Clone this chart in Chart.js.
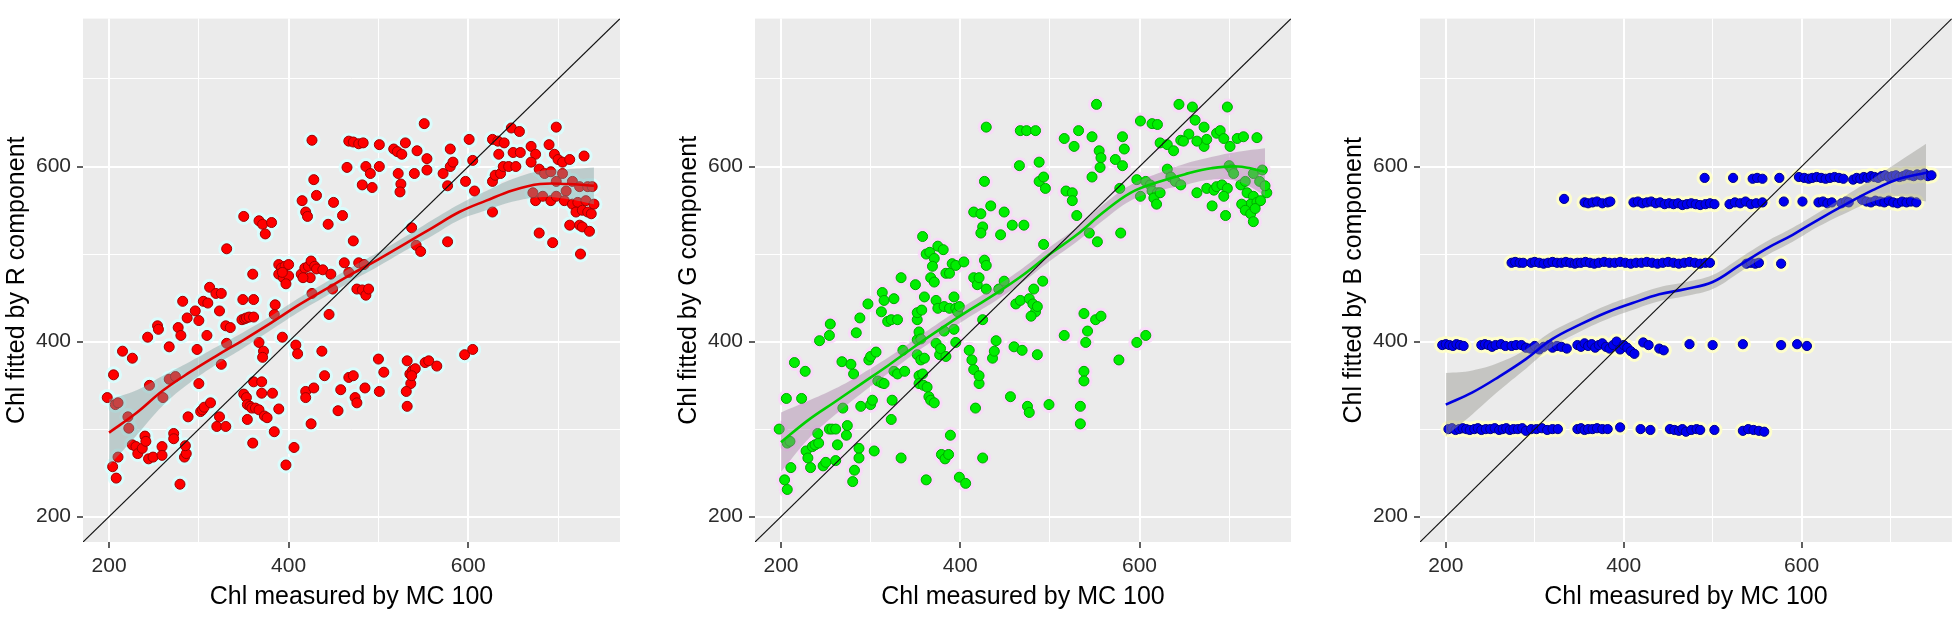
<!DOCTYPE html>
<html>
<head>
<meta charset="utf-8">
<title>Chl fitted vs measured</title>
<script src="https://cdn.jsdelivr.net/npm/chart.js@4.4.1/dist/chart.umd.min.js"></script>
<style>
  html, body { margin: 0; padding: 0; background: #fff; }
  #wrap { position: relative; width: 1960px; height: 619px; overflow: hidden; }
  .panel { position: absolute; top: 0; height: 619px; }
</style>
</head>
<body>
<div id="wrap">
  <div class="panel" style="left:0;width:640px"><canvas id="panelR"></canvas></div>
  <div class="panel" style="left:672px;width:640px"><canvas id="panelG"></canvas></div>
  <div class="panel" style="left:1337px;width:623px"><canvas id="panelB"></canvas></div>
</div>
<script>
// axes
const axisLim = [171, 769];
const gridTicks = [200, 300, 400, 500, 600, 700];
const labelTicks = [200, 400, 600];
const xTitle = 'Chl measured by MC 100';

// loess x grid shared by the three panels
const smoothX = [200,230,260,290,320,350,380,410,440,470,500,530,560,590,620,650,680,710,740];

// R component
const rX = [198,205,207,210,204,208,210,215,221,222,226,226,230,232,237,240,241,245,243,244,249,254,255,259,259,260,267,267,274,272,272,277,282,280,279,284,286,285,287,288,
  296,298,300,300,302,304,306,305,309,310,312,313,319,320,330,323,323,325,325,331,330,335,331,350,349,348,351,353,356,361,350,353,354,357,359,363,367,373,376,354,
  360,361,370,360,361,367,371,374,381,367,372,371,370,382,384,389,384,385,389,392,396,400,389,394,400,397,393,393,397,406,408,410,415,419,421,426,428,431,414,418,
  422,425,429,424,416,431,438,426,419,419,425,428,437,440,444,445,447,449,450,455,458,460,462,465,467,467,472,478,483,467,472,472,474,476,478,484,476,482,486,489,
  482,486,491,493,485,501,501,500,501,506,517,521,526,530,522,525,524,532,535,536,538,541,531,532,537,537,542,547,543,540,551,554,554,552,556,565,572,577,577,580,
  580,583,596,605,597,601,605,607,627,627,630,636,634,627,633,640,639,645,648,650,657,658,653,670,675,690,696,700,705,713,729,679,685,692,705,698,709,716,724,733,
  738,675,683,692,698,707,716,722,731,740,720,727,733,737,713,724,727,735,679,694,725,672,670,698];
const rY = [336,362,328,330,257,244,268,389,314,301,381,282,280,272,278,292,286,350,405,266,268,418,414,280,270,336,394,357,360,295,289,416,446,407,237,268,272,281,427,314,
  435,391,352,424,320,322,325,446,407,444,462,330,455,303,303,314,435,455,374,506,418,416,398,543,448,425,426,427,428,428,340,336,328,326,324,324,322,315,313,311,
  284,354,354,477,448,538,534,523,536,399,389,382,341,341,297,323,431,442,488,484,486,488,477,473,475,466,479,405,259,279,396,386,561,548,543,630,585,567,477,484,
  486,492,486,473,473,483,482,455,343,336,306,347,389,361,534,431,477,460,559,321,345,544,490,599,479,629,628,626,627,359,361,515,336,330,490,488,460,459,453,460,
  579,600,592,576,347,600,625,380,343,365,620,617,614,627,592,580,571,378,363,352,367,369,343,326,361,530,510,503,618,592,649,609,596,376,378,372,592,578,514,620,
  600,605,385,391,583,631,607,572,548,583,590,592,614,631,629,627,600,600,644,616,640,616,600,623,614,625,614,608,605,608,612,597,592,594,592,583,572,583,577,577,
  577,561,566,561,566,561,557,559,561,557,548,550,548,546,533,533,531,526,524,513,500,570,605,645];
const rFit = [296,318,344,365,384,402,421,441,459,477,494,512,530,548,561,573,580,580,578];
const rLo  = [258,292,327,353,374,393,413,433,451,469,486,504,521,539,550,560,565,563,557];
const rHi  = [334,344,361,377,394,411,429,449,467,485,502,520,539,557,572,586,595,597,599];

// G component
const gX = [198,206,204,207,207,210,211,215,223,227,228,230,233,235,238,242,241,243,247,250,254,255,254,257,261,261,263,268,269,273,274,278,281,280,282,284,287,287,288,289,
  297,298,300,300,302,304,306,308,312,315,312,313,315,319,323,330,323,324,326,330,326,334,334,336,338,350,352,352,357,360,352,354,356,352,356,360,354,358,354,359,
  363,365,367,371,358,362,362,366,371,367,371,369,373,375,373,377,378,375,379,383,387,382,384,381,382,388,384,388,391,395,389,393,395,393,397,399,395,399,404,406,
  410,413,415,415,419,421,417,421,421,425,425,427,429,429,427,429,415,423,425,423,434,436,438,440,443,445,449,449,456,458,460,462,467,466,467,474,484,469,471,475,
  477,477,481,484,486,479,482,486,488,488,493,492,493,495,499,538,551,557,542,540,538,538,534,534,577,597,607,516,516,527,532,552,547,555,557,556,518,525,525,547,
  573,581,583,581,578,530,544,553,579,601,614,620,623,631,644,659,662,646,655,672,686,698,672,675,690,694,701,709,716,731,638,649,664,597,607,612,614,620,631,635,
  640,646,601,616,623,664,675,683,686,692,698,681,694,696,700,703,705,713,718,727,734,737,720,727,724,731,735,742,740,714,718,724,727,729,619];
const gY = [300,335,242,231,284,286,256,376,335,366,275,267,256,280,282,284,295,401,258,262,407,420,300,300,300,264,282,377,324,293,304,374,363,240,253,410,278,267,427,326,
  443,379,383,328,333,275,388,355,353,352,434,456,447,423,425,425,311,333,366,363,449,473,267,390,366,465,425,433,436,451,402,411,403,385,379,381,361,363,352,350,
  348,337,333,330,520,242,500,502,495,473,468,486,447,438,398,385,392,509,271,266,271,412,383,505,440,438,478,478,489,487,293,451,438,414,434,440,399,245,491,238,
  390,379,368,473,465,473,324,352,361,425,267,493,487,645,583,460,548,546,531,524,555,381,389,401,460,522,548,469,337,533,394,443,447,601,641,641,641,390,533,326,
  319,449,443,434,440,429,460,385,583,605,588,469,511,575,328,432,425,429,412,399,366,355,326,306,379,399,407,407,632,623,641,671,634,618,610,599,572,570,561,588,
  608,634,620,601,575,544,524,514,524,652,649,648,627,625,671,668,653,630,637,645,638,668,623,631,641,632,623,632,634,633,618,629,629,585,583,579,572,570,597,588,
  583,579,566,564,570,570,575,573,577,579,575,555,566,544,601,597,592,579,583,592,583,596,570,566,557,559,561,570,578,557,550,546,537,552,557];
const gFit = [285,310,331,352,373,395,416,436,455,476,500,522,548,570,582,591,598,600,594];
const gLo  = [251,288,316,341,364,387,408,428,447,468,492,514,539,561,572,579,585,583,567];
const gHi  = [319,332,346,363,382,403,424,444,463,484,508,530,557,579,592,603,611,617,621];

// B component
const bX = [203,207,211,215,219,223,227,232,236,240,245,250,255,260,264,268,272,276,281,286,290,296,302,308,314,320,326,348,352,356,360,365,370,376,382,396,419,430,452,457,
  462,466,470,476,482,486,502,534,540,546,552,558,
  196,200,204,208,212,216,220,240,244,248,252,256,262,267,274,279,285,290,295,300,305,310,316,320,325,330,336,348,352,356,360,364,368,372,376,380,384,388,392,396,
  400,404,408,412,422,428,440,445,474,500,534,577,595,606,
  274,278,283,287,296,300,305,310,315,320,325,330,335,340,345,348,352,357,362,367,372,378,384,390,396,402,408,414,420,426,432,438,444,450,456,462,468,474,480,486,
  492,497,538,543,548,552,577,
  333,356,360,365,370,376,382,385,411,416,421,426,431,436,441,446,451,456,461,466,471,476,481,486,492,497,502,519,525,531,537,543,549,556,580,601,619,624,629,634,
  645,650,653,668,673,678,683,688,693,698,703,708,713,718,723,729,
  491,523,545,550,556,575,597,603,608,612,617,622,627,632,637,642,647,658,662,666,670,674,678,682,686,690,694,698,702,706,710,714,718,722,726,730,734,738,742,746];
const bY = [300,301,299,300,301,300,299,300,301,299,300,300,301,299,300,301,299,300,300,301,298,300,300,301,299,300,300,300,301,299,300,300,301,300,300,302,300,299,300,299,
  298,300,297,299,300,299,299,298,300,299,298,297,
  396,397,396,395,397,396,395,396,397,396,394,396,397,395,395,396,396,393,392,395,391,394,396,393,395,394,392,396,394,398,395,397,393,396,398,394,392,396,400,391,
  396,393,389,386,399,396,392,390,397,396,397,396,397,395,
  490,491,490,490,490,491,490,489,490,491,490,490,491,490,489,490,490,491,490,489,490,491,490,490,491,490,489,490,490,491,490,489,490,491,490,489,490,491,490,489,
  490,490,489,490,489,490,489,
  563,559,558,559,560,558,559,560,559,560,558,559,560,558,559,557,558,557,558,556,557,558,557,556,557,558,557,557,559,558,560,557,558,559,560,560,559,560,558,559,
  558,560,559,562,560,559,561,560,559,561,559,558,560,559,560,559,
  587,587,586,587,586,587,588,587,586,587,588,587,586,587,588,587,586,585,587,586,588,587,589,588,587,589,590,588,589,590,588,589,591,590,589,591,590,592,589,590];
const bFit = [328,342,360,380,403,419,433,444,454,460,468,487,506,522,540,557,573,586,593];
const bLo  = [292,317,344,369,394,411,425,436,446,452,460,479,498,514,532,547,560,566,560];
const bHi  = [364,367,376,391,412,427,441,452,462,468,476,495,514,530,548,567,586,606,626];

const FONT = "'Liberation Sans', Arial, sans-serif";

const panelBg = {
  id: 'panelBg',
  beforeDraw(chart) {
    const a = chart.chartArea, ctx = chart.ctx;
    ctx.save();
    ctx.fillStyle = '#EBEBEB';
    ctx.fillRect(a.left, a.top, a.right - a.left, a.bottom - a.top);
    ctx.restore();
  }
};

function zip(xs, ys) { return xs.map((x, i) => ({ x: x, y: ys[i] })); }

function axis(titleText, isX) {
  return {
    type: 'linear',
    min: axisLim[0],
    max: axisLim[1],
    afterBuildTicks: s => { s.ticks = gridTicks.map(v => ({ value: v })); },
    afterFit: s => { if (isX) s.height = 70; else s.width = 83; },
    ticks: {
      autoSkip: false, maxRotation: 0, padding: 6, color: '#2B2B2B',
      font: { family: FONT, size: 21 },
      callback: v => labelTicks.includes(v) ? String(v) : ''
    },
    grid: {
      color: '#FFFFFF',
      lineWidth: c => labelTicks.includes(c.tick.value) ? 2 : 1,
      tickColor: c => labelTicks.includes(c.tick.value) ? '#2B2B2B' : 'rgba(0,0,0,0)',
      tickLength: 6,
      tickWidth: 1.5
    },
    border: { display: false },
    title: {
      display: true, text: titleText, color: '#000000',
      font: { family: FONT, size: 25 },
      padding: isX ? { top: 0, bottom: 0 } : { top: 2, bottom: 0 }
    }
  };
}

function makePanel(id, xs, ys, fit, lo, hi, col, yTitle, padRight) {
  const pts = zip(xs, ys);
  new Chart(document.getElementById(id), {
    type: 'scatter',
    data: {
      datasets: [
        { type: 'line', data: [{ x: axisLim[0], y: axisLim[0] }, { x: axisLim[1], y: axisLim[1] }],
          borderColor: '#111111', borderWidth: 1.2, pointRadius: 0, fill: false, order: 0 },
        { type: 'line', data: zip(smoothX, fit), borderColor: col.line, borderWidth: 2.6,
          pointRadius: 0, tension: 0.4, fill: false, order: 1 },
        { type: 'line', data: zip(smoothX, hi), borderColor: 'rgba(0,0,0,0)', borderWidth: 1,
          pointRadius: 0, tension: 0.4, fill: '+1', backgroundColor: col.band, order: 2 },
        { type: 'line', data: zip(smoothX, lo), borderColor: 'rgba(0,0,0,0)', borderWidth: 1,
          pointRadius: 0, tension: 0.4, fill: false, order: 2 },
        { data: pts, pointRadius: col.r, backgroundColor: col.fill, borderColor: col.edge, borderWidth: 1, order: 3 },
        { data: pts, pointRadius: col.r + 3.5, backgroundColor: col.halo, borderWidth: 0, order: 4 }
      ]
    },
    options: {
      responsive: true,
      maintainAspectRatio: false,
      animation: false,
      events: [],
      layout: { padding: { top: 6, bottom: 7, left: 0, right: padRight } },
      plugins: { legend: { display: false }, tooltip: { enabled: false } },
      scales: { x: axis(xTitle, true), y: axis(yTitle, false) }
    },
    plugins: [panelBg]
  });
}

makePanel('panelR', rX, rY, rFit, rLo, rHi,
  { r: 5, fill: '#FF0000', edge: '#A00000', line: '#E00000', band: 'rgba(125,160,160,0.42)', halo: 'rgba(215,255,255,0.85)' },
  'Chl fitted by R component', 20);
makePanel('panelG', gX, gY, gFit, gLo, gHi,
  { r: 5, fill: '#00EE00', edge: '#00A800', line: '#00D000', band: 'rgba(165,125,165,0.42)', halo: 'rgba(250,215,250,0.85)' },
  'Chl fitted by G component', 21);
makePanel('panelB', bX, bY, bFit, bLo, bHi,
  { r: 4.6, fill: '#0000F0', edge: '#00008A', line: '#0000E0', band: 'rgba(150,150,145,0.45)', halo: 'rgba(255,255,200,0.9)' },
  'Chl fitted by B component', 3);
</script>
</body>
</html>
